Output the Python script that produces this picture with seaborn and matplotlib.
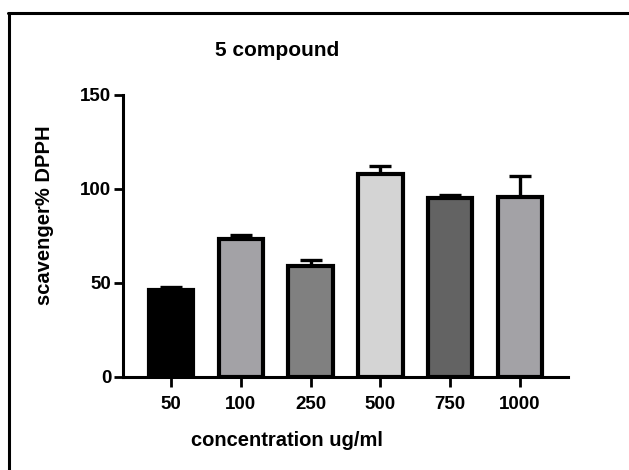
import matplotlib
matplotlib.use('Agg')
import matplotlib.pyplot as plt
from matplotlib.lines import Line2D
import seaborn as sns
import pandas as pd
import numpy as np

# data
concentrations = ['50', '100', '250', '500', '750', '1000']
scavenging = [46.5, 73.2, 59.0, 108.1, 95.0, 95.9]
errors = [1.6, 2.5, 3.0, 4.1, 1.8, 11.1]
bar_colors = ['#000000', '#a3a2a6', '#808080', '#d4d4d4', '#636363', '#a3a2a6']

sns.set_style('ticks')
plt.rcParams['font.family'] = ['Liberation Sans', 'DejaVu Sans']
plt.rcParams['font.weight'] = 'bold'
plt.rcParams['text.color'] = 'black'
plt.rcParams['axes.edgecolor'] = 'black'
plt.rcParams['xtick.color'] = 'black'
plt.rcParams['ytick.color'] = 'black'

df = pd.DataFrame({'conc': concentrations, 'val': scavenging})

fig = plt.figure(figsize=(6.29, 4.70), dpi=100)
ax = fig.add_axes([0.1955, 0.198, 0.7075, 0.600])

sns.barplot(data=df, x='conc', y='val', hue='conc', palette=bar_colors,
            order=concentrations, legend=False, width=0.64,
            edgecolor='black', linewidth=3.0, saturation=1, ax=ax, zorder=3)

xpos = np.arange(len(concentrations))
ax.errorbar(xpos, scavenging, yerr=[np.zeros(len(errors)), errors], fmt='none',
            ecolor='black', elinewidth=2.4, capsize=8, capthick=2.4, zorder=2)

ax.set_xlim(-0.69, 5.69)
ax.set_ylim(0, 150)
ax.set_yticks([0, 50, 100, 150])
sns.despine(ax=ax)
for s in ['left', 'bottom']:
    ax.spines[s].set_linewidth(2.2)
ax.tick_params(axis='y', length=6.5, width=2.0, labelsize=13.5, pad=2)
ax.tick_params(axis='x', length=7.5, width=2.0, labelsize=13.5, pad=6)
for lab in ax.get_xticklabels() + ax.get_yticklabels():
    lab.set_fontweight('bold')

ax.set_xlabel('')
ax.set_ylabel('')
fig.text(277 / 629, 1 - 50 / 470, '5 compound', ha='center', va='center',
         fontsize=15, fontweight='bold')
fig.text(287 / 629, 1 - 440 / 470, 'concentration ug/ml', ha='center', va='center',
         fontsize=14.5, fontweight='bold')
fig.text(45 / 629, 1 - 215 / 470, 'scavenger% DPPH', ha='center', va='center',
         rotation=90, fontsize=14.5, fontweight='bold')

# outer frame (left and top edges visible)
fig.add_artist(Line2D([9 / 629, 9 / 629], [0, 1 - 12.5 / 470], color='black',
                      linewidth=2.2, transform=fig.transFigure))
fig.add_artist(Line2D([8 / 629, 1], [1 - 12.5 / 470, 1 - 12.5 / 470], color='black',
                      linewidth=2.2, transform=fig.transFigure))

fig.savefig('out.png', dpi=100)
